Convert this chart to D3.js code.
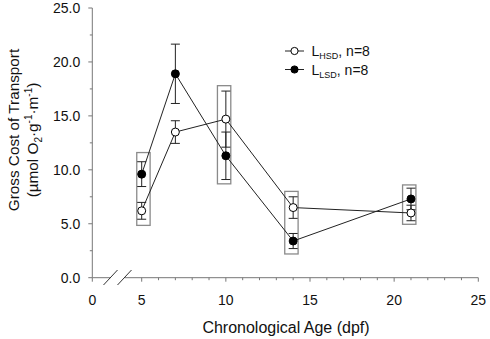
<!DOCTYPE html>
<html><head><meta charset="utf-8">
<script src="https://cdn.jsdelivr.net/npm/d3@7"></script>
<style>
html,body{margin:0;padding:0;background:#fff;}
svg{display:block;font-family:"Liberation Sans",Arial,sans-serif;}
</style></head>
<body>
<svg id="chart" width="490" height="339"></svg>
<script>
// Data
const ages = [5, 7, 10, 14, 21];
const hsdMean = [6.2, 13.5, 14.7, 6.5, 6.0];
const hsdErr = [0.78, 1.05, 2.6, 1.0, 0.72];
const lsdMean = [9.6, 18.9, 11.3, 3.4, 7.3];
const lsdErr = [1.15, 2.75, 2.2, 0.7, 1.0];
const boxAges = [5, 10, 14, 21];
const boxLow = [4.85, 8.7, 2.2, 4.95];
const boxHigh = [11.6, 17.8, 8.0, 8.6];
const xTicks = [0, 5, 10, 15, 20, 25];
const xMinor = [6,7,8,9,11,12,13,14,16,17,18,19,21,22,23,24];
const yTicks = [0, 5, 10, 15, 20, 25];
const yMinor = [2.5, 7.5, 12.5, 17.5, 22.5];
const seriesNames = ["HSD", "LSD"];
const nLabel = ", n=8";

const svg = d3.select("#chart");
const x = d3.scaleLinear().domain([0, 5, 25]).range([92.3, 141.7, 478.3]);
const y = d3.scaleLinear().domain([0, 25]).range([277.7, 8]);
const axisColor = "#777";
const lineColor = "#222";

// boxes
svg.append("g").selectAll("rect").data(boxAges).join("rect")
  .attr("x", d => x(d - 0.5))
  .attr("y", (d, i) => y(boxHigh[i]))
  .attr("width", x(1) - x(0) === 0 ? 16 : x(5.5) - x(4.5))
  .attr("height", (d, i) => y(boxLow[i]) - y(boxHigh[i]))
  .attr("fill", "none").attr("stroke", "#8a8a8a").attr("stroke-width", 1.3);

// y axis
const yAxis = svg.append("g").attr("transform", `translate(${x(0)},0)`);
yAxis.append("line").attr("y1", y(0)).attr("y2", y(25)).attr("stroke", axisColor);
yAxis.selectAll(".maj").data(yTicks).join("line")
  .attr("x1", -4).attr("x2", 0).attr("y1", d => y(d)).attr("y2", d => y(d)).attr("stroke", axisColor);
yAxis.selectAll(".min").data(yMinor).join("line").attr("class","min")
  .attr("x1", -2.5).attr("x2", 0).attr("y1", d => y(d)).attr("y2", d => y(d)).attr("stroke", axisColor);
yAxis.selectAll("text").data(yTicks).join("text")
  .attr("x", -12).attr("y", d => y(d) + 5)
  .attr("text-anchor", "end").attr("font-size", 14).attr("fill", "#111")
  .text(d => d3.format(".1f")(d));

// x axis
const xa = svg.append("g");
xa.append("line").attr("x1", x(0)).attr("x2", 110.5).attr("y1", y(0)).attr("y2", y(0)).attr("stroke", axisColor);
xa.append("line").attr("x1", 124.5).attr("x2", x(25)).attr("y1", y(0)).attr("y2", y(0)).attr("stroke", axisColor);
xa.selectAll(".maj").data(xTicks).join("line")
  .attr("x1", d => x(d)).attr("x2", d => x(d)).attr("y1", y(0)).attr("y2", y(0) + 4).attr("stroke", axisColor);
xa.selectAll(".min").data(xMinor).join("line").attr("class","min")
  .attr("x1", d => x(d)).attr("x2", d => x(d)).attr("y1", y(0)).attr("y2", y(0) + 2.5).attr("stroke", axisColor);
xa.selectAll("text").data(xTicks).join("text")
  .attr("x", d => x(d)).attr("y", 305)
  .attr("text-anchor", "middle").attr("font-size", 14).attr("fill", "#111")
  .text(d => d);
// break marks
[[103.5, 117.5], [117.5, 131.5]].forEach(([a, b]) => {
  xa.append("line").attr("x1", a).attr("y1", 285).attr("x2", b).attr("y2", 270)
    .attr("stroke", "#333").attr("stroke-width", 1);
});

// axis labels
svg.append("text").attr("x", 286).attr("y", 333).attr("text-anchor", "middle")
  .attr("font-size", 16).attr("fill", "#111").text("Chronological Age (dpf)");
const yl = svg.append("g").attr("transform", "translate(19,130) rotate(-90)");
yl.append("text").attr("text-anchor", "middle").attr("font-size", 15.3).attr("fill", "#111")
  .text("Gross Cost of Transport");
const yl2 = svg.append("g").attr("transform", "translate(38,140) rotate(-90)")
  .append("text").attr("text-anchor", "middle").attr("font-size", 15.3).attr("fill", "#111");
yl2.append("tspan").text("(µmol O");
yl2.append("tspan").attr("font-size", 10).attr("dy", 4).text("2");
yl2.append("tspan").attr("dy", -4).text("·g");
yl2.append("tspan").attr("font-size", 10).attr("dy", -6).text("-1");
yl2.append("tspan").attr("dy", 6).text("·m");
yl2.append("tspan").attr("font-size", 10).attr("dy", -6).text("-1");
yl2.append("tspan").attr("dy", 6).text(")");

// series
const series = [
  {mean: hsdMean, err: hsdErr, fill: "#fff"},
  {mean: lsdMean, err: lsdErr, fill: "#000"}
];
const line = d3.line().x((d, i) => x(ages[i])).y(d => y(d));
series.forEach(s => {
  svg.append("path").attr("d", line(s.mean)).attr("fill", "none")
    .attr("stroke", lineColor).attr("stroke-width", 1);
});
series.forEach(s => {
  const g = svg.append("g");
  ages.forEach((a, i) => {
    const cx = x(a), hi = y(s.mean[i] + s.err[i]), lo = y(s.mean[i] - s.err[i]);
    g.append("line").attr("x1", cx).attr("x2", cx).attr("y1", hi).attr("y2", lo).attr("stroke", lineColor);
    g.append("line").attr("x1", cx - 4.5).attr("x2", cx + 4.5).attr("y1", hi).attr("y2", hi).attr("stroke", lineColor);
    g.append("line").attr("x1", cx - 4.5).attr("x2", cx + 4.5).attr("y1", lo).attr("y2", lo).attr("stroke", lineColor);
  });
});
series.forEach(s => {
  svg.append("g").selectAll("circle").data(s.mean).join("circle")
    .attr("cx", (d, i) => x(ages[i])).attr("cy", d => y(d)).attr("r", 4)
    .attr("fill", s.fill).attr("stroke", "#000").attr("stroke-width", 1);
});

// legend
const legY = [51, 69.5];
series.forEach((s, i) => {
  const g = svg.append("g");
  g.append("line").attr("x1", 285).attr("x2", 304).attr("y1", legY[i]).attr("y2", legY[i]).attr("stroke", lineColor);
  g.append("circle").attr("cx", 294.5).attr("cy", legY[i]).attr("r", 3.6)
    .attr("fill", s.fill).attr("stroke", "#000");
  const t = g.append("text").attr("x", 311.5).attr("y", legY[i] + 5).attr("font-size", 14).attr("fill", "#111");
  t.append("tspan").text("L");
  t.append("tspan").attr("font-size", 9).attr("dy", 3).text(seriesNames[i]);
  t.append("tspan").attr("dy", -3).text(nLabel);
});
</script>
</body></html>
